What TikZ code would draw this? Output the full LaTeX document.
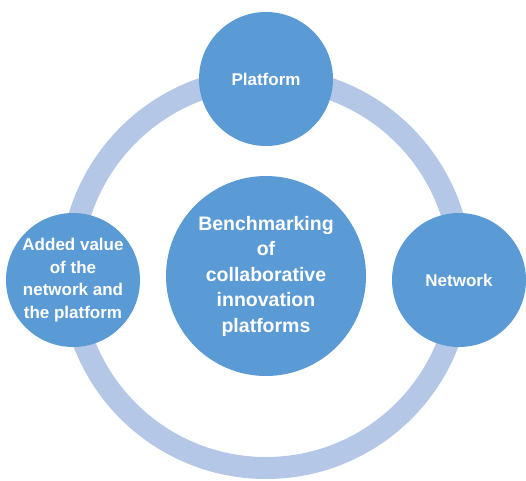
\documentclass[tikz,border=0pt]{standalone}
\usepackage{fontspec}
\setmainfont{Liberation Sans}
\usetikzlibrary{positioning}
\definecolor{cHub}{HTML}{5B9BD5}
\definecolor{cRing}{HTML}{B4C7E7}
\tikzset{
  hub/.style={circle, fill=cHub, inner sep=0pt, minimum size=#1, align=center,
              text=white, font=\bfseries\fontsize{17}{22.7}\selectfont},
  hubbig/.style={hub=#1, font=\bfseries\fontsize{19.5}{25.5}\selectfont},
  ring/.style={draw=cRing, line width=22pt},
}

\begin{document}
\begin{tikzpicture}[x=1pt, y=1pt]
\useasboundingbox (-266,-207) rectangle (260,273);
\coordinate (o) at (0,0);
\draw[ring] (o) circle[radius=195];
\node[hub=134pt] (platform) at (0,194) {Platform};
\node[hub=134pt] (network) at (193,-7) {Network};
\node[hub=134pt] (value) at (-193,-7)
  {Added value\\of the\\network and\\the platform};
\node[hubbig=200pt] (bench) at (0,-3)
  {Benchmarking\\of\\collaborative\\innovation\\platforms};
\end{tikzpicture}
\end{document}
